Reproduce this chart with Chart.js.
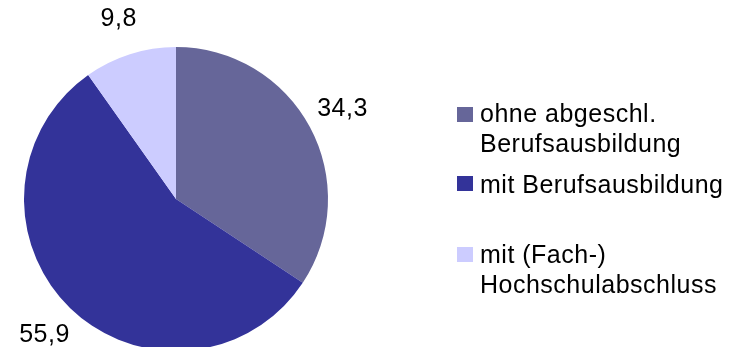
<!DOCTYPE html>
<html lang="de">
<head>
<meta charset="UTF-8">
<title>Abschlüsse</title>
<script src="https://cdn.jsdelivr.net/npm/chart.js@4/dist/chart.umd.min.js"></script>
<style>
  body { margin: 0; background: #fff; font-family: "Liberation Sans", Arial, sans-serif; }
  #wrap { position: relative; width: 731px; height: 347px; overflow: hidden; }
  #legend { position: absolute; left: 0; top: 0; }
  .item { position: absolute; left: 457px; font-size: 25px; line-height: 30px; letter-spacing: 0.5px; color: #000; white-space: nowrap; }
  .box { position: absolute; left: 0; width: 16px; height: 15px; }
  .txt { position: absolute; left: 23px; top: 0; }
</style>
</head>
<body>
<div id="wrap">
  <canvas id="chart" width="731" height="352"></canvas>
  <div id="legend"></div>
</div>
<script>
const labels = [
  ['ohne abgeschl.', 'Berufsausbildung'],
  ['mit Berufsausbildung'],
  ['mit (Fach-)', 'Hochschulabschluss']
];
const values = [34.3, 55.9, 9.8];
const colors = ['#666699', '#333399', '#ccccff'];

// value labels outside each slice, along the slice's middle angle
const outsideLabels = {
  id: 'outsideLabels',
  afterDatasetsDraw(chart) {
    const ctx = chart.ctx;
    const meta = chart.getDatasetMeta(0);
    ctx.save();
    ctx.font = '25px "Liberation Sans", Arial, sans-serif';
    ctx.letterSpacing = '0.5px';
    ctx.fillStyle = '#000';
    ctx.textAlign = 'center';
    ctx.textBaseline = 'middle';
    meta.data.forEach((arc, i) => {
      const p = arc.getProps(['x', 'y', 'startAngle', 'endAngle', 'outerRadius']);
      const mid = (p.startAngle + p.endAngle) / 2;
      const d = p.outerRadius + 37;
      const x = p.x + Math.cos(mid) * d;
      const y = p.y + Math.sin(mid) * d;
      ctx.fillText(values[i].toFixed(1).replace('.', ','), x, y);
    });
    ctx.restore();
  }
};

new Chart(document.getElementById('chart'), {
  type: 'pie',
  data: {
    labels: labels.map(l => l.join(' ')),
    datasets: [{
      data: values,
      backgroundColor: colors,
      borderWidth: 0
    }]
  },
  options: {
    responsive: false,
    animation: false,
    layout: { padding: { left: 24, right: 403, top: 47, bottom: 1 } },
    plugins: {
      legend: { display: false },
      tooltip: { enabled: false }
    }
  },
  plugins: [outsideLabels]
});

// legend on the right
const legend = document.getElementById('legend');
const itemTops = [98, 169, 239];
const boxTops = [107, 176, 247];
labels.forEach((lines, i) => {
  const item = document.createElement('div');
  item.className = 'item';
  item.style.top = itemTops[i] + 'px';
  const box = document.createElement('div');
  box.className = 'box';
  box.style.background = colors[i];
  box.style.top = (boxTops[i] - itemTops[i]) + 'px';
  const txt = document.createElement('div');
  txt.className = 'txt';
  txt.innerHTML = lines.join('<br>');
  item.appendChild(box);
  item.appendChild(txt);
  legend.appendChild(item);
});
</script>
</body>
</html>
